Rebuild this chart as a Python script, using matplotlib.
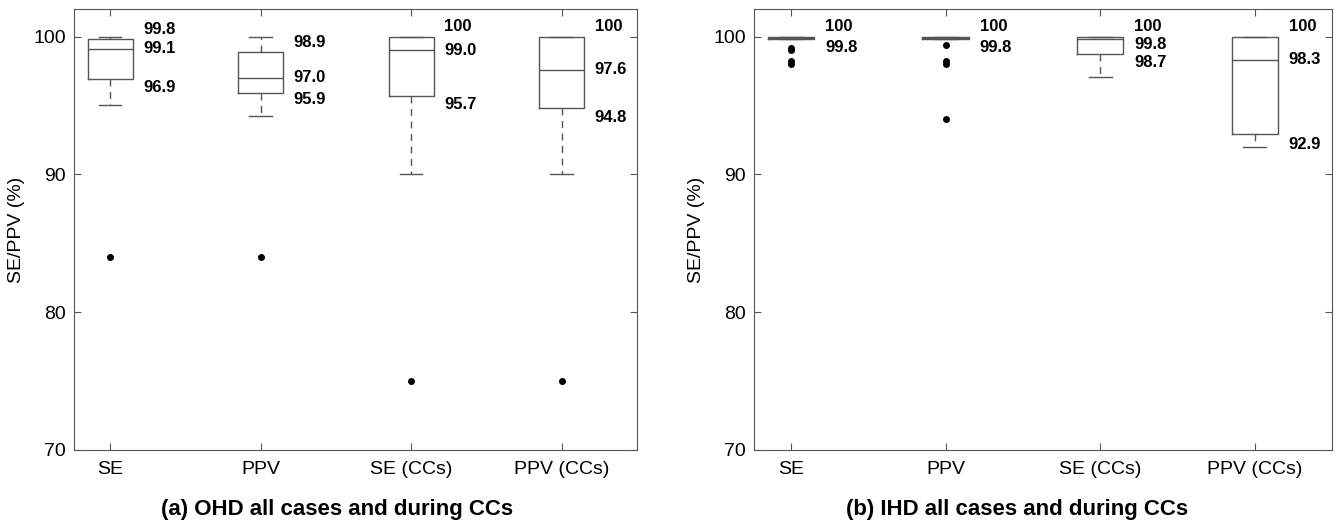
import matplotlib
matplotlib.use("Agg")
import matplotlib.pyplot as plt

plt.rcParams['font.family'] = ['Liberation Sans', 'DejaVu Sans']

categories = ["SE", "PPV", "SE (CCs)", "PPV (CCs)"]

# (a) OHD: whislo, q1, median, q3, whishi, outliers
ohd_whislo = [95.0, 94.2, 90.0, 90.0]
ohd_q1     = [96.9, 95.9, 95.7, 94.8]
ohd_med    = [99.1, 97.0, 99.0, 97.6]
ohd_q3     = [99.8, 98.9, 100.0, 100.0]
ohd_whishi = [100.0, 100.0, 100.0, 100.0]
ohd_fliers = [[84.0], [84.0], [75.0], [75.0]]
ohd_labels = [["99.8", "99.1", "96.9"], ["98.9", "97.0", "95.9"],
              ["100", "99.0", "95.7"], ["100", "97.6", "94.8"]]
ohd_label_y = [[100.5, 99.1, 96.3], [99.6, 97.0, 95.4],
               [100.7, 99.0, 95.1], [100.7, 97.6, 94.1]]

# (b) IHD
ihd_whislo = [99.8, 99.8, 97.1, 92.0]
ihd_q1     = [99.8, 99.8, 98.7, 92.9]
ihd_med    = [99.9, 99.9, 99.8, 98.3]
ihd_q3     = [100.0, 100.0, 100.0, 100.0]
ihd_whishi = [100.0, 100.0, 100.0, 100.0]
ihd_fliers = [[99.2, 99.0, 98.2, 98.0], [99.4, 98.2, 98.0, 94.0], [], []]
ihd_labels = [["100", "99.8"], ["100", "99.8"],
              ["100", "99.8", "98.7"], ["100", "98.3", "92.9"]]
ihd_label_y = [[100.7, 99.2], [100.7, 99.2],
               [100.7, 99.4, 98.1], [100.7, 98.3, 92.2]]

titles = ["(a) OHD all cases and during CCs", "(b) IHD all cases and during CCs"]

fig = plt.figure(figsize=(13.38, 5.22), dpi=100)
ax1 = fig.add_axes([74/1338, 72/522, 563/1338, 441/522])
ax2 = fig.add_axes([754/1338, 72/522, 578/1338, 441/522])

line_col = "#555555"
panels = [
    (ax1, ohd_whislo, ohd_q1, ohd_med, ohd_q3, ohd_whishi, ohd_fliers, ohd_labels, ohd_label_y),
    (ax2, ihd_whislo, ihd_q1, ihd_med, ihd_q3, ihd_whishi, ihd_fliers, ihd_labels, ihd_label_y),
]
for k, (ax, wlo, q1, med, q3, whi, fl, labs, laby) in enumerate(panels):
    stats = []
    for i in range(len(categories)):
        stats.append(dict(whislo=wlo[i], q1=q1[i], med=med[i], q3=q3[i],
                          whishi=whi[i], fliers=fl[i], label=categories[i]))
    pos = list(range(1, len(categories) + 1))
    ax.bxp(stats, positions=pos, widths=0.3, capwidths=0.15,
           boxprops=dict(color=line_col, linewidth=1.0),
           medianprops=dict(color=line_col, linewidth=1.0),
           whiskerprops=dict(color=line_col, linewidth=1.0, linestyle=(0, (5, 4))),
           capprops=dict(color=line_col, linewidth=1.0),
           flierprops=dict(marker='o', markerfacecolor='black', markeredgecolor='black',
                           markersize=4))
    for i in range(len(categories)):
        for t, yv in zip(labs[i], laby[i]):
            ax.text(pos[i] + 0.22, yv, t, ha='left', va='center',
                    fontsize=12, fontweight='bold')
    ax.set_xlim(0.76, 4.5)
    ax.set_ylim(70, 102)
    ax.set_yticks([70, 80, 90, 100])
    ax.set_xticks(pos)
    ax.set_xticklabels(categories)
    ax.tick_params(direction='in', top=True, right=True, labelsize=14, length=5,
                   color=line_col)
    ax.tick_params(axis='x', pad=8)
    ax.tick_params(axis='y', pad=6)
    for s in ax.spines.values():
        s.set_color(line_col)
    ax.set_ylabel("SE/PPV (%)", fontsize=14, labelpad=6)

fig.text(337/1338, 1 - 509/522, titles[0], ha='center', va='center',
         fontsize=16, fontweight='bold')
fig.text(1017/1338, 1 - 509/522, titles[1], ha='center', va='center',
         fontsize=16, fontweight='bold')

fig.savefig("out.png", dpi=100)
